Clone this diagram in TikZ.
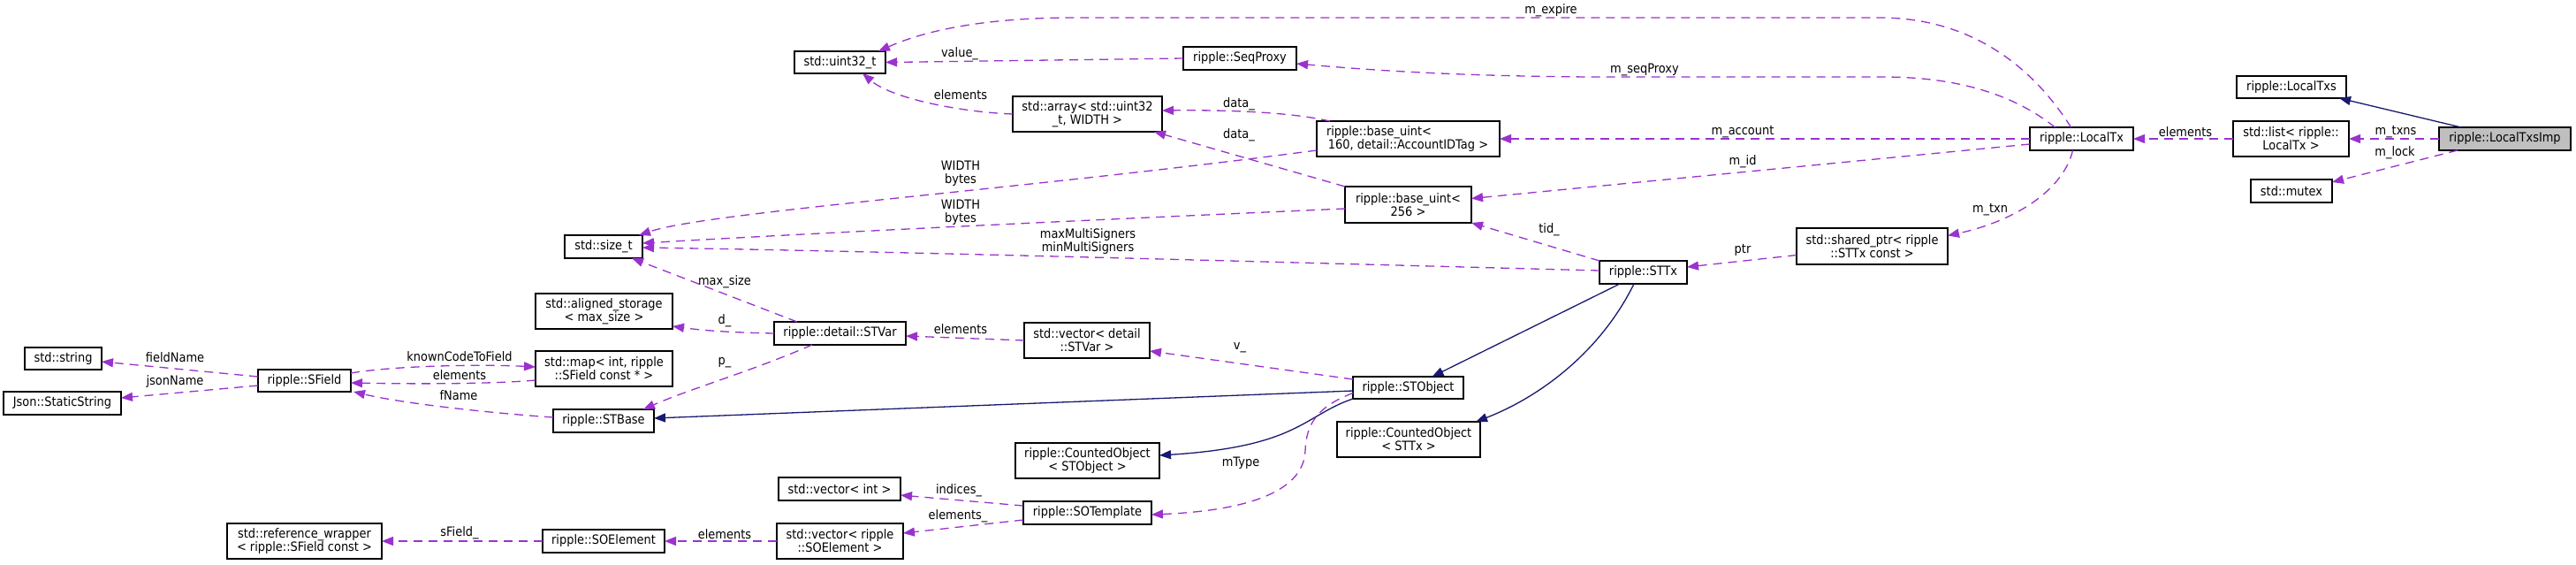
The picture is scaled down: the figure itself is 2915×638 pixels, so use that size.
\documentclass[tikz,border=0pt]{standalone}
\usepackage{fontspec}
\setmainfont{DejaVu Sans}[FakeStretch=0.9]
\usetikzlibrary{arrows.meta,calc}
\definecolor{dxpurple}{HTML}{9A32CD}
\definecolor{dxnavy}{HTML}{191970}
\definecolor{dxgrey}{HTML}{BFBFBF}
\newcommand{\dxfont}{\fontsize{7.2}{7.6}\selectfont}
\tikzset{
  dxcls/.style={draw=black, line width=0.6pt, fill=white, inner sep=0pt,
                outer sep=0pt, align=center, font=\dxfont},
  dxroot/.style={dxcls, fill=dxgrey},
  dxsz/.style 2 args={minimum width=#1*0.5pt, minimum height=#2*0.5pt},
  dxuse/.style={draw=dxpurple, line width=0.65pt, dash pattern=on 5pt off 3.5pt,
                -{Triangle[length=6.5pt,width=5pt]}},
  dxinh/.style={draw=dxnavy, line width=0.65pt,
                -{Triangle[length=6.5pt,width=5pt]}},
  dxlab/.style={inner sep=0pt, align=center, font=\dxfont}
}

\begin{document}
\begin{tikzpicture}[x=0.5pt, y=-0.5pt]
  \useasboundingbox[fill=white] (0,0) rectangle (2915,638);
  \node[dxroot, dxsz={149}{26}] (imp) at (2834.5,157) {ripple::LocalTxsImp};
  \node[dxcls, dxsz={124}{25}] (ltxs) at (2593,98.5) {ripple::LocalTxs};
  \node[dxcls, dxsz={131}{40}] (list) at (2592.5,157) {std::list< ripple::\\LocalTx >};
  \node[dxcls, dxsz={92}{26}] (mutex) at (2593,216) {std::mutex};
  \node[dxcls, dxsz={117}{26}] (ltx) at (2355.5,157) {ripple::LocalTx};
  \node[dxcls, dxsz={103}{25}] (u32) at (950.5,70.5) {std::uint32\_t};
  \node[dxcls, dxsz={128}{26}] (seq) at (1403,66) {ripple::SeqProxy};
  \node[dxcls, dxsz={169}{40}] (arr) at (1230.5,129) {std::array< std::uint32\\\_t, WIDTH >};
  \node[dxcls, dxsz={207}{40}] (b160) at (1593.5,157) {ripple::base\_uint<\hspace*{33pt}\\160, detail::AccountIDTag >};
  \node[dxcls, dxsz={143}{41}] (b256) at (1593.5,231.5) {ripple::base\_uint<\\256 >};
  \node[dxcls, dxsz={88}{26}] (sizet) at (683,279) {std::size\_t};
  \node[dxcls, dxsz={171}{41}] (sptr) at (2118.5,278.5) {std::shared\_ptr< ripple\\::STTx const >};
  \node[dxcls, dxsz={99}{26}] (sttx) at (1859.5,308) {ripple::STTx};
  \node[dxcls, dxsz={155}{40}] (align) at (683.5,352) {std::aligned\_storage\\< max\_size >};
  \node[dxcls, dxsz={149}{26}] (stvar) at (950.5,377) {ripple::detail::STVar};
  \node[dxcls, dxsz={142}{40}] (vstvar) at (1230,385) {std::vector< detail\\::STVar >};
  \node[dxcls, dxsz={155}{40}] (map) at (683.5,417) {std::map< int, ripple\\::SField const * >};
  \node[dxcls, dxsz={87}{25}] (string) at (71.5,405.5) {std::string};
  \node[dxcls, dxsz={105}{25}] (sfield) at (344.5,430.5) {ripple::SField};
  \node[dxcls, dxsz={133}{26}] (json) at (70.5,456) {Json::StaticString};
  \node[dxcls, dxsz={114}{26}] (stbase) at (683,476) {ripple::STBase};
  \node[dxcls, dxsz={125}{25}] (stobj) at (1593.5,438.5) {ripple::STObject};
  \node[dxcls, dxsz={162}{40}] (cnttx) at (1594,497) {ripple::CountedObject\\< STTx >};
  \node[dxcls, dxsz={163}{40}] (cntobj) at (1230.5,521) {ripple::CountedObject\\< STObject >};
  \node[dxcls, dxsz={138}{26}] (vint) at (950,553) {std::vector< int >};
  \node[dxcls, dxsz={145}{26}] (sotpl) at (1230.5,580) {ripple::SOTemplate};
  \node[dxcls, dxsz={143}{40}] (vsoel) at (950.5,612) {std::vector< ripple\\::SOElement >};
  \node[dxcls, dxsz={138}{26}] (soel) at (683,612) {ripple::SOElement};
  \node[dxcls, dxsz={175}{40}] (refw) at (344.5,612) {std::reference\_wrapper\\< ripple::SField const >};

  \draw[dxinh] ($(imp.north west)+(25,0)$) -- ($(ltxs.south east)+(-8,0)$);
  \draw[dxuse] (imp.west) -- (list.east);
  \draw[dxuse] ($(imp.south west)+(21,0)$) -- ($(mutex.north east)+(0,3)$);
  \draw[dxuse] (list.west) -- (ltx.east);
  \draw[dxuse] ($(ltx.north)+(-12,0)$) .. controls (2300,75) and (2230,20) .. (2127,20)
    -- (1214,20) .. controls (1120,20) and (1050,33) .. ($(u32.north east)+(-8,0)$);
  \draw[dxuse] ($(ltx.north)+(-30,0)$) .. controls (2270,100) and (2200,87) .. (2130,87)
    -- (1800,87) .. controls (1650,86) and (1560,80) .. ($(seq.east)+(0,6)$);
  \draw[dxuse] (ltx.west) -- (b160.east);
  \draw[dxuse] ($(ltx.west)+(0,6)$) -- ($(b256.east)+(0,-7)$);
  \draw[dxuse] ($(ltx.south)+(-10,0)$) .. controls (2335,215) and (2280,250) .. ($(sptr.east)+(0,-12)$);
  \draw[dxuse] (seq.west) -- (u32.east);
  \draw[dxuse] (arr.west) .. controls (1090,127) and (1010,112) .. ($(u32.south east)+(-26,0)$);
  \draw[dxuse] ($(b160.north west)+(15,0)$) .. controls (1470,129) and (1410,124) .. ($(arr.east)+(0,-4)$);
  \draw[dxuse] (b256.north west) -- ($(arr.south east)+(-9,0)$);
  \draw[dxuse] ($(b160.west)+(0,13)$) .. controls (1150,215) and (800,240) .. ($(sizet.north east)+(-4,0)$);
  \draw[dxuse] ($(b256.west)+(0,4.5)$) .. controls (1250,248) and (950,262) .. ($(sizet.east)+(0,-4)$);
  \draw[dxuse] ($(sttx.west)+(0,-2)$) .. controls (1500,298) and (1000,284) .. ($(sizet.east)+(0,1)$);
  \draw[dxuse] (sttx.north west) -- (b256.south east);
  \draw[dxuse] ($(sptr.west)+(0,10)$) -- ($(sttx.east)+(0,-6)$);
  \draw[dxinh] ($(sttx.south west)+(23,0)$) -- ($(stobj.north)+(27,0)$);
  \draw[dxinh] ($(sttx.south west)+(39,0)$) .. controls (1810,400) and (1740,450) .. ($(cnttx.north east)+(-5,0)$);
  \draw[dxinh] ($(stobj.west)+(0,3.5)$) -- ($(stbase.east)+(0,-3)$);
  \draw[dxinh] (stobj.south west) .. controls (1475,470) and (1470,505) .. ($(cntobj.east)+(0,-6)$);
  \draw[dxuse] ($(stobj.west)+(0,6)$) .. controls (1490,460) and (1478,480) .. (1477,510)
    .. controls (1475,560) and (1400,578) .. ($(sotpl.east)+(0,2)$);
  \draw[dxuse] ($(stobj.north west)+(0,3)$) -- ($(vstvar.east)+(0,12)$);
  \draw[dxuse] (vstvar.west) -- ($(stvar.east)+(0,3)$);
  \draw[dxuse] ($(stvar.north west)+(26,0)$) -- ($(sizet.south east)+(-12,0)$);
  \draw[dxuse] (stvar.west) .. controls (820,376) and (790,373) .. ($(align.south east)+(0,-3)$);
  \draw[dxuse] ($(stvar.south west)+(43,0)$) .. controls (850,420) and (780,440) .. ($(stbase.north east)+(-12,0)$);
  \draw[dxuse] ($(sfield.north east)+(0,4)$) .. controls (450,413) and (550,412) .. ($(map.west)+(0,-2)$);
  \draw[dxuse] ($(map.west)+(0,13)$) .. controls (550,435) and (450,434) .. ($(sfield.east)+(0,2.5)$);
  \draw[dxuse] ($(stbase.west)+(0,-4)$) .. controls (540,466) and (450,455) .. ($(sfield.south east)+(3,0)$);
  \draw[dxuse] ($(sfield.west)+(0,-4.5)$) -- ($(string.east)+(0,3.5)$);
  \draw[dxuse] ($(sfield.west)+(0,5.5)$) -- ($(json.east)+(0,-6)$);
  \draw[dxuse] ($(sotpl.west)+(0,-8)$) -- ($(vint.east)+(0,7)$);
  \draw[dxuse] ($(sotpl.west)+(0,8)$) -- ($(vsoel.east)+(0,-9)$);
  \draw[dxuse] (vsoel.west) -- (soel.east);
  \draw[dxuse] (soel.west) -- (refw.east);

  \node[dxlab] (lmtxns) at (2711,149) {m\_txns};
  \node[dxlab] (lmlock) at (2710,173) {m\_lock};
  \node[dxlab] (lelem1) at (2473,149) {elements};
  \node[dxlab] (lmexpire) at (1755,12) {m\_expire};
  \node[dxlab] (lmseq) at (1861,79) {m\_seqProxy};
  \node[dxlab] (lmacct) at (1972,149) {m\_account};
  \node[dxlab] (lmid) at (1972,183) {m\_id};
  \node[dxlab] (lmtxn) at (2252,237) {m\_txn};
  \node[dxlab] (ltid) at (1753,260) {tid\_};
  \node[dxlab] (lptr) at (1972,283) {ptr};
  \node[dxlab] (lvalue) at (1086,61) {value\_};
  \node[dxlab] (lelem2) at (1087,107) {elements};
  \node[dxlab] (ldata1) at (1402,118) {data\_};
  \node[dxlab] (ldata2) at (1402,153) {data\_};
  \node[dxlab] (lwidth1) at (1087,196) {WIDTH\\bytes};
  \node[dxlab] (lwidth2) at (1087,240) {WIDTH\\bytes};
  \node[dxlab] (lmulti) at (1231,273) {maxMultiSigners\\minMultiSigners};
  \node[dxlab] (lmaxsz) at (820,319) {max\_size};
  \node[dxlab] (ld) at (820,363) {d\_};
  \node[dxlab] (lp) at (820,410) {p\_};
  \node[dxlab] (lelem3) at (1087,372) {elements};
  \node[dxlab] (lv) at (1403,393) {v\_};
  \node[dxlab] (lmtype) at (1404,524) {mType};
  \node[dxlab] (lindices) at (1085,555) {indices\_};
  \node[dxlab] (lelems) at (1084,584) {elements\_};
  \node[dxlab] (lelem4) at (820,604) {elements};
  \node[dxlab] (lknown) at (520,403) {knownCodeToField};
  \node[dxlab] (lelem5) at (520,424) {elements};
  \node[dxlab] (lfname) at (519,447) {fName};
  \node[dxlab] (lfield) at (198,404) {fieldName};
  \node[dxlab] (ljson) at (198,432) {jsonName};
  \node[dxlab] (lsfield) at (520,603) {sField\_};
\end{tikzpicture}
\end{document}
